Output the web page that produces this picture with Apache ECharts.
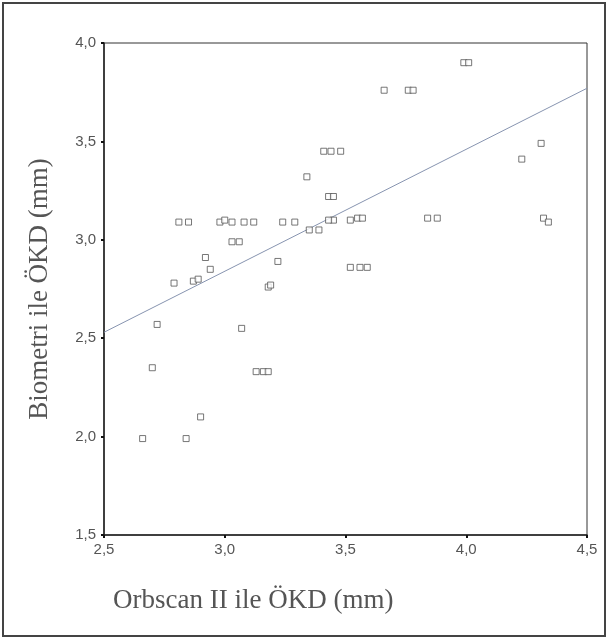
<!DOCTYPE html>
<html>
<head>
<meta charset="utf-8">
<script src="https://cdn.jsdelivr.net/npm/echarts@6/dist/echarts.min.js"></script>
<style>
  html, body { margin: 0; padding: 0; background: #fff; }
  #chart { width: 608px; height: 640px; }
</style>
</head>
<body>
<div id="chart"></div>
<script>
// Orbscan II (x) vs Biometri (y), ÖKD in mm
const orbscan = [
  3.99, 4.01, 3.66, 3.76, 3.78, 4.31, 4.23, 4.32, 4.34, 3.84,
  3.88, 3.55, 3.57, 3.52, 3.45, 3.43, 3.52, 3.56, 3.59, 3.41,
  3.44, 3.48, 3.34, 3.43, 3.45, 3.35, 3.39, 2.81, 2.85, 2.98,
  3.00, 3.03, 3.08, 3.12, 3.24, 3.29, 3.03, 3.06, 2.92, 3.22,
  2.94, 2.79, 2.87, 2.89, 3.18, 3.19, 2.72, 3.07, 2.70, 3.13,
  3.16, 3.18, 2.90, 2.66, 2.84
]
const biometri = [
  3.90, 3.90, 3.76, 3.76, 3.76, 3.49, 3.41, 3.11, 3.09, 3.11,
  3.11, 3.11, 3.11, 3.10, 3.10, 3.10, 2.86, 2.86, 2.86, 3.45,
  3.45, 3.45, 3.32, 3.22, 3.22, 3.05, 3.05, 3.09, 3.09, 3.09,
  3.10, 3.09, 3.09, 3.09, 3.09, 3.09, 2.99, 2.99, 2.91, 2.89,
  2.85, 2.78, 2.79, 2.80, 2.76, 2.77, 2.57, 2.55, 2.35, 2.33,
  2.33, 2.33, 2.10, 1.99, 1.99
]
// regression line end points
const fitX = [2.5, 4.5]
const fitY = [2.53, 3.77]

const xTitle = 'Orbscan II ile ÖKD (mm)'
const yTitle = 'Biometri ile ÖKD (mm)'

const fmt = v => v.toFixed(1).replace('.', ',')

const chart = echarts.init(document.getElementById('chart'))

const option = {
  backgroundColor: '#fff',
  animation: false,
  grid: {
    left: 104, top: 43, right: 21, bottom: 105,
    show: true, borderColor: '#333', borderWidth: 1
  },
  xAxis: {
    type: 'value', min: 2.5, max: 4.5, interval: 0.5,
    splitLine: { show: false },
    axisLine: { show: true, lineStyle: { color: '#222', width: 1.5 } },
    axisTick: { show: true, length: 3, lineStyle: { color: '#111', width: 2 } },
    axisLabel: {
      formatter: fmt, color: '#555', fontSize: 15,
      fontFamily: 'Liberation Sans', margin: 7
    }
  },
  yAxis: {
    type: 'value', min: 1.5, max: 4.0, interval: 0.5,
    splitLine: { show: false },
    axisLine: { show: true, lineStyle: { color: '#222', width: 1.5 } },
    axisTick: { show: true, length: 3, lineStyle: { color: '#111', width: 2 } },
    axisLabel: {
      formatter: fmt, color: '#555', fontSize: 15,
      fontFamily: 'Liberation Sans', margin: 8
    },
    name: yTitle,
    nameLocation: 'middle',
    nameRotate: 90,
    nameGap: 51,
    nameTextStyle: { fontFamily: 'Liberation Serif', fontSize: 27, color: '#555' }
  },
  graphic: [
    {
      type: 'rect', silent: true,
      shape: { x: 3, y: 3, width: 602, height: 633 },
      style: { fill: 'none', stroke: '#444', lineWidth: 2 }
    },
    {
      type: 'text', left: 113, top: 587,
      style: {
        text: xTitle, fill: '#555',
        font: '27px "Liberation Serif"'
      }
    }
  ],
  series: [
    {
      type: 'scatter',
      data: orbscan.map((x, i) => [x, biometri[i]]),
      symbol: 'rect',
      symbolSize: 6,
      itemStyle: { color: '#fff', borderColor: '#555', borderWidth: 1 },
      z: 3
    },
    {
      type: 'line',
      data: fitX.map((x, i) => [x, fitY[i]]),
      showSymbol: false,
      lineStyle: { color: '#8794b0', width: 1 },
      z: 2
    }
  ]
}

chart.setOption(option)
</script>
</body>
</html>
